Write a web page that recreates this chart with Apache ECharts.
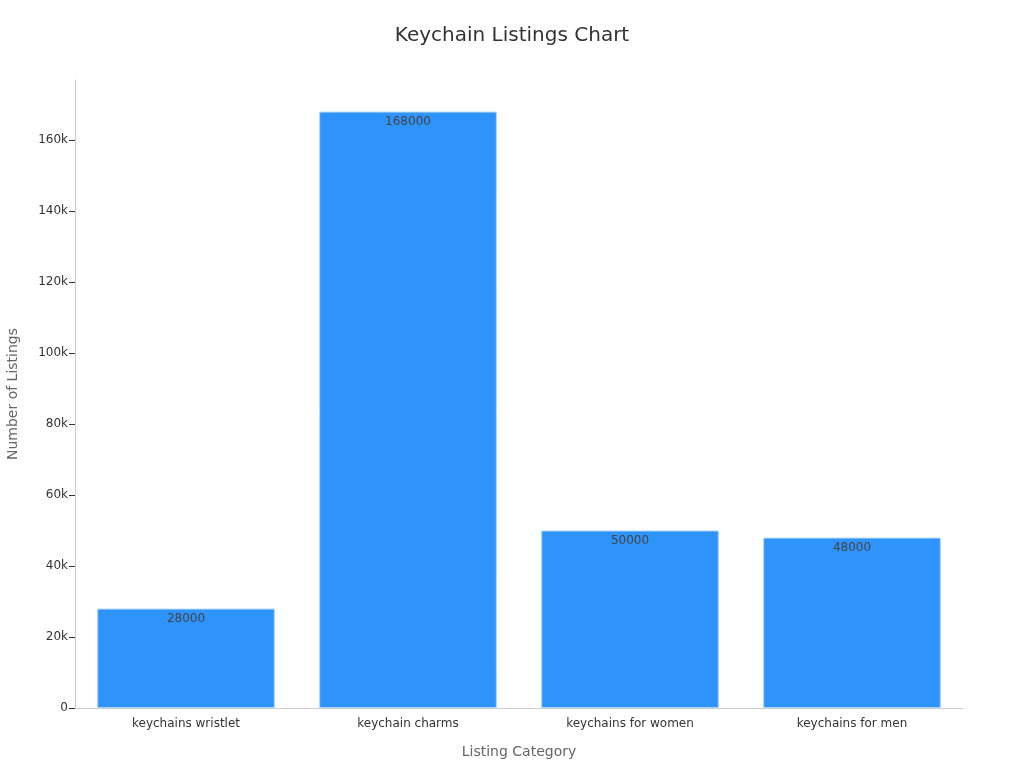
<!DOCTYPE html>
<html><head><meta charset="utf-8">
<script src="https://cdn.jsdelivr.net/npm/echarts@6/dist/echarts.min.js"></script>
<style>html,body{margin:0;padding:0;background:#fff}#c{width:1024px;height:768px}</style>
</head><body><div id="c"></div>
<script>
const categories = ["keychains wristlet", "keychain charms", "keychains for women", "keychains for men"];
const listings = [28000, 168000, 50000, 48000];
const yTicks = [0, 20000, 40000, 60000, 80000, 100000, 120000, 140000, 160000];

const chart = echarts.init(document.getElementById('c'), null, {renderer: 'canvas'});
chart.setOption({
  animation: false,
  textStyle: {fontFamily: 'DejaVu Sans'},
  title: {text: 'Keychain Listings Chart', left: 'center', top: 21,
    textStyle: {fontFamily: 'DejaVu Sans', fontSize: 20, fontWeight: 'normal', color: '#333'}},
  grid: {left: 75, right: 61, top: 80, bottom: 60, containLabel: false, outerBoundsMode: 'none'},
  xAxis: {
    type: 'category', data: categories,
    name: 'Listing Category', nameLocation: 'middle', nameGap: 37,
    nameTextStyle: {fontSize: 14, color: '#666'},
    axisLine: {lineStyle: {color: '#ccc'}},
    axisTick: {alignWithLabel: true, lineStyle: {color: '#888'}},
    axisLabel: {fontSize: 12, color: '#333', margin: 10}
  },
  yAxis: {
    type: 'value', min: 0, max: 176900, interval: 20000,
    name: 'Number of Listings', nameLocation: 'middle', nameGap: 55,
    nameTextStyle: {fontSize: 14, color: '#666'},
    axisLine: {show: true, lineStyle: {color: '#ccc'}},
    axisTick: {show: true, length: 6, lineStyle: {color: '#333'}, customValues: yTicks},
    splitLine: {show: false},
    axisLabel: {fontSize: 12, color: '#333', margin: 7, customValues: yTicks,
      formatter: v => v === 0 ? '0' : (v / 1000) + 'k'}
  },
  series: [{
    type: 'bar', data: listings, barWidth: '80%',
    itemStyle: {color: '#2E93FA', borderColor: '#a8d4ff', borderWidth: 1},
    label: {show: true, position: 'insideTop', distance: 4, fontSize: 12, color: '#444'}
  }]
});
</script></body></html>
